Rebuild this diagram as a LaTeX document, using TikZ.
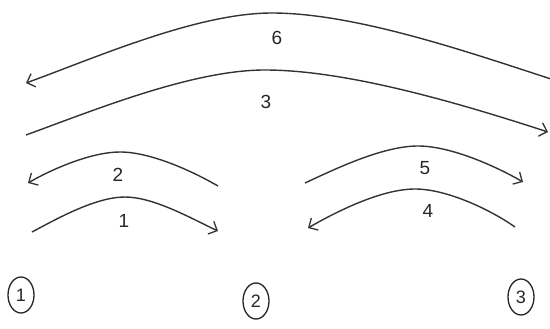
\documentclass[tikz,border=0pt]{standalone}
\usepackage{fontspec}
\setmainfont{Liberation Sans}
\usetikzlibrary{arrows.meta,shapes.geometric}
\begin{document}
\begin{tikzpicture}[x=1pt,y=1pt,
  arc/.style={draw=black!80,line width=1.4pt,-{Straight Barb[length=7pt,width=14pt,line width=1.3pt]}},
  lbl/.style={font=\fontsize{19}{19}\selectfont,text=black!85,inner sep=1pt},
  stn/.style={ellipse,draw=black!85,line width=1.3pt,minimum width=26pt,minimum height=36pt,inner sep=0pt,font=\fontsize{18}{18}\selectfont,text=black!85}]
\useasboundingbox[fill=white] (0,0) rectangle (550,-329);
% endpoints and peaks
\coordinate (e6r) at (551,-79);
\coordinate (p6) at (272,-13);
\coordinate (e6l) at (26,-83);
\coordinate (e3l) at (26,-135);
\coordinate (p3) at (265,-70);
\coordinate (e3r) at (548,-132);
\coordinate (e2r) at (218,-186);
\coordinate (p2) at (120,-152);
\coordinate (e2l) at (28,-183);
\coordinate (e1l) at (32,-232);
\coordinate (p1) at (125,-197);
\coordinate (e1r) at (218,-231);
\coordinate (e5l) at (305,-183);
\coordinate (p5) at (418,-146);
\coordinate (e5r) at (523,-182);
\coordinate (e4r) at (515,-227);
\coordinate (p4) at (415,-189);
\coordinate (e4l) at (308,-228);
% arcs
\draw[arc] (e6r) to[out=162,in=0,looseness=0.75] (p6) to[out=180,in=20,looseness=0.75] (e6l);
\draw[arc] (e3l) to[out=20,in=180,looseness=0.75] (p3) to[out=0,in=162,looseness=0.75] (e3r);
\draw[arc] (e2r) to[out=150,in=0,looseness=0.75] (p2) to[out=180,in=30,looseness=0.75] (e2l);
\draw[arc] (e1l) to[out=28,in=180,looseness=0.75] (p1) to[out=0,in=155,looseness=0.75] (e1r);
\draw[arc] (e5l) to[out=25,in=180,looseness=0.75] (p5) to[out=0,in=150,looseness=0.75] (e5r);
\draw[arc] (e4r) to[out=145,in=0,looseness=0.75] (p4) to[out=180,in=30,looseness=0.75] (e4l);
% labels
\node[lbl] (l6) at (277,-38) {6};
\node[lbl] (l3) at (266,-102) {3};
\node[lbl] (l2) at (118,-175) {2};
\node[lbl] (l1) at (124,-221) {1};
\node[lbl] (l5) at (425,-168) {5};
\node[lbl] (l4) at (428,-211) {4};
% stations
\node[stn] (s1) at (21,-295) {1};
\node[stn] (s2) at (256,-301) {2};
\node[stn] (s3) at (521,-297) {3};
\end{tikzpicture}
\end{document}
